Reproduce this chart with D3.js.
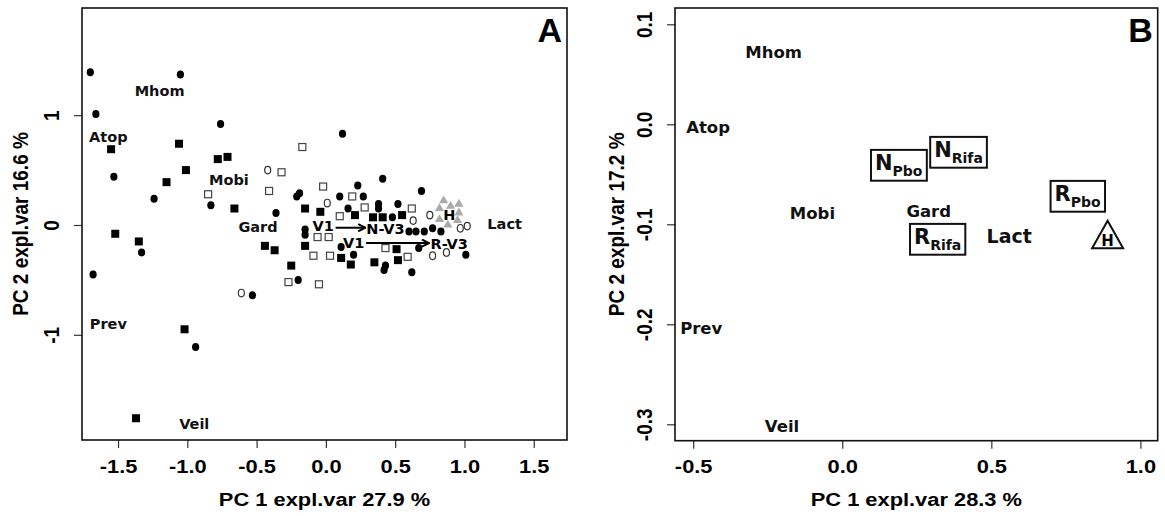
<!DOCTYPE html>
<html><head><meta charset="utf-8">
<script src="https://cdn.jsdelivr.net/npm/d3@7"></script>
<style>
html,body{margin:0;padding:0;background:#fff;}
svg{display:block;}
</style></head>
<body>
<svg id="chart" width="1165" height="516"></svg>
<script>
// ---------------- Panel A data (PC1, PC2) ----------------
const filledCircles = [[-1.70,1.39],[-1.05,1.37],[-1.66,1.01],[-0.76,0.92],[-1.53,0.44],[-1.24,0.24],[-0.83,0.18],[-0.36,0.11],[-0.21,0.26],[-0.19,0.29],[-1.33,-0.25],[-1.68,-0.45],[-0.94,-1.11],[-0.53,-0.64],[-0.20,-0.50],[-0.15,-0.04],[-0.15,-0.09],[0.12,0.83],[0.23,0.36],[0.10,0.26],[0.16,0.15],[0.11,-0.20],[0.20,-0.27],[0.41,0.42],[0.27,0.26],[0.38,0.19],[0.38,0.15],[0.52,0.19],[0.69,0.31],[0.48,0.07],[0.60,-0.06],[0.65,-0.06],[0.71,-0.06],[0.77,-0.03],[0.83,-0.06],[0.67,-0.21],[0.43,-0.37],[0.42,-0.41],[0.62,-0.43],[1.01,-0.27]];
const filledSquares = [[-1.55,0.69],[-1.06,0.74],[-0.78,0.60],[-0.71,0.62],[-1.01,0.50],[-1.15,0.39],[-0.66,0.15],[-1.52,-0.08],[-1.35,-0.15],[-1.02,-0.95],[-1.37,-1.76],[-0.44,-0.19],[-0.37,-0.23],[-0.25,-0.37],[-0.15,0.15],[-0.15,-0.19],[-0.04,0.12],[0.21,0.09],[0.34,0.07],[0.41,0.07],[0.55,0.09],[0.11,-0.30],[0.18,-0.36],[0.51,-0.22],[0.35,-0.34],[0.52,-0.32]];
const openSquares = [[-0.85,0.28],[-0.32,0.48],[-0.41,0.31],[-0.17,0.71],[-0.02,0.35],[0.19,0.26],[0.10,0.08],[0.28,0.16],[0.62,0.15],[-0.27,-0.52],[-0.05,-0.54],[-0.09,-0.28],[0.03,-0.28],[-0.06,-0.11],[0.02,-0.11],[0.43,-0.21],[0.59,-0.29]];
const openCircles = [[-0.42,0.50],[0.01,0.20],[-0.61,-0.62],[0.63,0.04],[0.75,0.09],[0.97,-0.03],[1.02,-0.01],[0.77,-0.28],[0.87,-0.25]];
const greyTriangles = [[0.85,0.23],[0.82,0.16],[0.90,0.18],[0.96,0.20],[0.82,0.06],[0.96,0.12],[0.88,0.01],[0.95,0.05]];

const varNamesA = ["Mhom","Atop","Mobi","Gard","Prev","Veil","Lact"];
const varXA = [-1.20,-1.57,-0.70,-0.49,-1.57,-0.95,1.29];
const varYA = [1.22,0.80,0.41,-0.02,-0.90,-1.81,0.01];

const groupNamesA = ["V1","N-V3","V1","R-V3","H"];
const groupXA = [-0.02,0.43,0.20,0.89,0.89];
const groupYA = [-0.01,-0.04,-0.16,-0.17,0.09];

const arrowX0 = [0.07,0.29];
const arrowX1 = [0.285,0.745];
const arrowY = [-0.025,-0.165];

const xTicksA = [-1.5,-1.0,-0.5,0.0,0.5,1.0,1.5];
const yTicksA = [-1,0,1];

// ---------------- Panel B data ----------------
const varNamesB = ["Mhom","Atop","Mobi","Gard","Prev","Veil","Lact"];
const varXB = [-0.23,-0.45,-0.10,0.29,-0.473,-0.202,0.56];
const varYB = [0.072,-0.003,-0.089,-0.087,-0.204,-0.302,-0.112];

const boxMain = ["N","N","R","R"];
const boxSub = ["Pbo","Rifa","Pbo","Rifa"];
const boxX = [0.19,0.39,0.79,0.32];
const boxY = [-0.041,-0.028,-0.072,-0.115];

const triLabel = ["H"];
const triX = [0.89];
const triY = [-0.116];

const xTicksB = [-0.5,0.0,0.5,1.0];
const yTicksB = [-0.3,-0.2,-0.1,0.0,0.1];

// ---------------- Drawing ----------------
const svg = d3.select("#chart");
const AXFONT = "'Liberation Sans', Arial, Helvetica, sans-serif";
const LBFONT = "'DejaVu Sans', Verdana, sans-serif";
const STRETCH = 1.15;

svg.append("defs").append("marker")
  .attr("id","arrowhead").attr("viewBox","0 0 10 10")
  .attr("refX",9).attr("refY",5).attr("markerWidth",9).attr("markerHeight",9)
  .attr("markerUnits","userSpaceOnUse").attr("orient","auto")
  .append("path").attr("d","M1,1L9,5L1,9").attr("fill","none")
  .attr("stroke","#000").attr("stroke-width",2.2);

function panel(cfg){
  const g = svg.append("g");
  const x = d3.scaleLinear().domain(cfg.xDom).range([cfg.left, cfg.right]);
  const y = d3.scaleLinear().domain(cfg.yDom).range([cfg.bottom, cfg.top]);
  const fmtX = cfg.fmtX, fmtY = cfg.fmtY;

  // x axis
  const gx = g.append("g").attr("transform",`translate(0,${cfg.bottom})`)
    .call(d3.axisBottom(x).tickValues(cfg.xTicks).tickSize(8).tickSizeOuter(0).tickFormat(fmtX));
  gx.select(".domain").remove();
  gx.selectAll(".tick line").attr("stroke","#333").attr("stroke-width",1.2);
  gx.selectAll(".tick text")
    .attr("y",0).attr("dy",0)
    .attr("transform",`translate(0,${466-cfg.bottom}) scale(${STRETCH},1)`)
    .attr("dominant-baseline","central")
    .style("font-family",AXFONT).style("font-weight","bold").style("font-size","19px").attr("fill","#000");

  // y axis
  const gy = g.append("g").attr("transform",`translate(${cfg.left},0)`)
    .call(d3.axisLeft(y).tickValues(cfg.yTicks).tickSize(8).tickSizeOuter(0).tickFormat(fmtY));
  gy.select(".domain").remove();
  gy.selectAll(".tick line").attr("stroke","#333").attr("stroke-width",1.2);
  gy.selectAll(".tick text")
    .attr("x",0).attr("dy",0)
    .attr("text-anchor","middle").attr("dominant-baseline","central")
    .attr("transform",`translate(${-cfg.yTickOff},0) scale(${STRETCH},1) rotate(-90)`)
    .style("font-family",AXFONT).style("font-weight","bold").style("font-size","19px").attr("fill","#000");

  // axis titles
  g.append("text").text(cfg.xTitle)
    .attr("transform",`translate(${(cfg.left+cfg.right)/2},499) scale(${STRETCH},1)`)
    .attr("text-anchor","middle").attr("dominant-baseline","central")
    .style("font-family",AXFONT).style("font-weight","bold").style("font-size","19px");
  g.append("text").text(cfg.yTitle)
    .attr("transform",`translate(${cfg.yTitleX},${(cfg.top+cfg.bottom)/2}) scale(${STRETCH},1) rotate(-90)`)
    .attr("text-anchor","middle").attr("dominant-baseline","central")
    .style("font-family",AXFONT).style("font-weight","bold").style("font-size","19px");

  // frame
  g.append("rect").attr("x",cfg.left).attr("y",cfg.top)
    .attr("width",cfg.right-cfg.left).attr("height",cfg.bottom-cfg.top)
    .attr("fill","none").attr("stroke","#111").attr("stroke-width",1.6);

  // panel letter
  g.append("text").text(cfg.letter)
    .attr("x",cfg.right-5).attr("y",42).attr("text-anchor","end")
    .style("font-family",AXFONT).style("font-weight","bold").style("font-size","34px");

  return {g,x,y};
}

// ---------- Panel A ----------
const fmt1 = d => d.toFixed(1);
const fmt0 = d => d.toFixed(0);
const A = panel({
  xDom:[-1.76,1.74], yDom:[-1.958,1.976],
  left:82, right:567, top:8, bottom:440,
  xTicks:xTicksA, yTicks:yTicksA, fmtX:fmt1, fmtY:fmt0,
  yTickOff:31, yTitleX:20,
  xTitle:"PC 1 expl.var 27.9 %", yTitle:"PC 2 expl.var 16.6 %", letter:"A"
});

const pa = A.g.append("g");
pa.selectAll(".osq").data(openSquares).join("rect")
  .attr("x",d=>A.x(d[0])-3.5).attr("y",d=>A.y(d[1])-3.5).attr("width",7).attr("height",7)
  .attr("fill","#fff").attr("stroke","#444").attr("stroke-width",1.2);
pa.selectAll(".oci").data(openCircles).join("ellipse")
  .attr("cx",d=>A.x(d[0])).attr("cy",d=>A.y(d[1])).attr("rx",3).attr("ry",3.8)
  .attr("fill","#fff").attr("stroke","#333").attr("stroke-width",1.2);
pa.selectAll(".tri").data(greyTriangles).join("path")
  .attr("transform",d=>`translate(${A.x(d[0])},${A.y(d[1])})`)
  .attr("d","M0,-4.2L4.6,3.6L-4.6,3.6Z").attr("fill","#aaa");
pa.selectAll(".fsq").data(filledSquares).join("rect")
  .attr("x",d=>A.x(d[0])-4).attr("y",d=>A.y(d[1])-4).attr("width",8).attr("height",8)
  .attr("fill","#000");
pa.selectAll(".fci").data(filledCircles).join("ellipse")
  .attr("cx",d=>A.x(d[0])).attr("cy",d=>A.y(d[1])).attr("rx",3.6).attr("ry",4)
  .attr("fill","#000");

// arrows
pa.selectAll(".arr").data(arrowY).join("line")
  .attr("x1",(d,i)=>A.x(arrowX0[i])).attr("x2",(d,i)=>A.x(arrowX1[i]))
  .attr("y1",d=>A.y(d)).attr("y2",d=>A.y(d))
  .attr("stroke","#000").attr("stroke-width",2).attr("marker-end","url(#arrowhead)");

// labels
pa.selectAll(".vl").data(varNamesA).join("text").text(d=>d)
  .attr("x",(d,i)=>A.x(varXA[i])).attr("y",(d,i)=>A.y(varYA[i]))
  .attr("text-anchor","middle").attr("dominant-baseline","central")
  .style("font-family",LBFONT).style("font-weight","bold").style("font-size","14.5px").attr("fill","#111");
pa.selectAll(".gl").data(groupNamesA).join("text").text(d=>d)
  .attr("x",(d,i)=>A.x(groupXA[i])).attr("y",(d,i)=>A.y(groupYA[i]))
  .attr("text-anchor","middle").attr("dominant-baseline","central")
  .style("font-family",LBFONT).style("font-weight","bold").style("font-size","14.5px").attr("fill","#000");

// ---------- Panel B ----------
const B = panel({
  xDom:[-0.561,1.058], yDom:[-0.3164,0.1163],
  left:675, right:1157.7, top:8, bottom:440.7,
  xTicks:xTicksB, yTicks:yTicksB, fmtX:fmt1, fmtY:fmt1,
  yTickOff:31, yTitleX:616,
  xTitle:"PC 1 expl.var 28.3 %", yTitle:"PC 2 expl.var 17.2 %", letter:"B"
});

const pb = B.g.append("g");
pb.selectAll(".vl").data(varNamesB).join("text").text(d=>d)
  .attr("x",(d,i)=>B.x(varXB[i])).attr("y",(d,i)=>B.y(varYB[i]))
  .attr("text-anchor","middle").attr("dominant-baseline","central")
  .style("font-family",LBFONT).style("font-weight","bold")
  .style("font-size",d=>d==="Lact"?"19px":"16.5px").attr("fill","#111");

// boxed group labels
boxMain.forEach((m,i)=>{
  const bg = pb.append("g");
  const rect = bg.append("rect");
  const t = bg.append("text").style("font-family",LBFONT).style("font-weight","bold").attr("fill","#111");
  t.append("tspan").text(m).style("font-size","21px");
  t.append("tspan").text(boxSub[i]).style("font-size","14px").attr("dy",6.5);
  const bb = t.node().getBBox();
  const top = -21*0.729-4.5, bot = 6.5+4.5;
  rect.attr("x",bb.x-4).attr("y",top).attr("width",bb.width+8).attr("height",bot-top)
    .attr("fill","#fff").attr("stroke","#111").attr("stroke-width",2);
  const cx = bb.x + bb.width/2, cy = (top+bot)/2;
  bg.attr("transform",`translate(${B.x(boxX[i])-cx},${B.y(boxY[i])-cy})`);
});

// triangle H
pb.selectAll(".trib").data(triLabel).join("path")
  .attr("transform",(d,i)=>`translate(${B.x(triX[i])},${B.y(triY[i])})`)
  .attr("d","M0,-19.5L15.5,8L-15.5,8Z").attr("fill","#fff").attr("stroke","#111").attr("stroke-width",2);
pb.selectAll(".tril").data(triLabel).join("text").text(d=>d)
  .attr("x",(d,i)=>B.x(triX[i])).attr("y",(d,i)=>B.y(triY[i])+1)
  .attr("text-anchor","middle").attr("dominant-baseline","central")
  .style("font-family",LBFONT).style("font-weight","bold").style("font-size","15px");
</script>
</body></html>
